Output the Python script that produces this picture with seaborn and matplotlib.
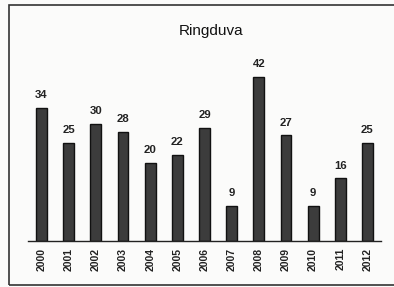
import matplotlib
matplotlib.use("Agg")
import matplotlib.pyplot as plt
import seaborn as sns
import pandas as pd
import numpy as np
from matplotlib.patches import Rectangle

# data
years = ["2000", "2001", "2002", "2003", "2004", "2005", "2006",
         "2007", "2008", "2009", "2010", "2011", "2012"]
counts = [34, 25, 30, 28, 20, 22, 29, 9, 42, 27, 9, 16, 25]

df = pd.DataFrame({"year": years, "count": counts})

sns.set_style("white")
plt.rcParams["font.family"] = ["Liberation Sans", "DejaVu Sans"]

fig = plt.figure(figsize=(3.94, 2.87), dpi=100)
fig.patch.set_facecolor("#fbfbfa")
ax = fig.add_axes([0.071, 0.160, 0.896, 0.627])
ax.set_facecolor("none")

sns.barplot(data=df, x="year", y="count", color="#3c3c3c", width=0.4,
            edgecolor="#111111", linewidth=1.0, saturation=1, ax=ax)

ax.set_ylim(0, 46)
ax.set_xlim(-0.5, len(years) - 0.5)
ax.set_xlabel("")
ax.set_ylabel("")
ax.set_yticks([])

# value labels
for i, v in enumerate(counts):
    ax.text(i, v + 2.0, str(v), ha="center", va="bottom",
            fontsize=8.2, fontweight="bold", color="#222222")

# x axis: ticks between categories
ax.set_xticks(range(len(years)))
ax.set_xticklabels(years, rotation=90, fontsize=7.5, fontweight="bold", color="#222222")
ax.tick_params(axis="x", which="major", length=0, pad=5)
ax.set_xticks(np.arange(-0.5, len(years)), minor=True)
ax.tick_params(axis="x", which="minor", length=4, width=0.9, color="#222222", direction="out")

for s in ["top", "right", "left"]:
    ax.spines[s].set_visible(False)
ax.spines["bottom"].set_color("#222222")
ax.spines["bottom"].set_linewidth(1.0)

fig.text(0.535, 0.893, "Ringduva", ha="center", va="center", fontsize=11, color="#111111")

# outer frame (right side runs off the scan)
fig.patches.append(Rectangle((0.022, 0.008), 1.05, 0.975, transform=fig.transFigure,
                             fill=False, edgecolor="#333333", linewidth=1.2))

fig.savefig("out.png", dpi=100)
